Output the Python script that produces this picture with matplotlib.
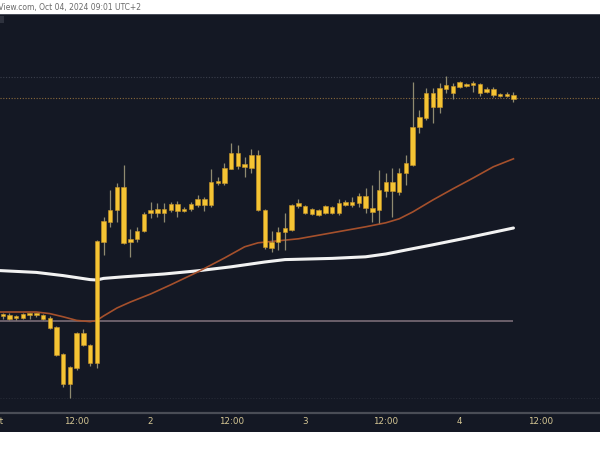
#!/usr/bin/env python

import numpy as np
import matplotlib as mpl
import matplotlib.pyplot as plt
from matplotlib.patches import Rectangle
from matplotlib.transforms import blended_transform_factory

mpl.rc('savefig', dpi=100)
mpl.rc('font', family='DejaVu Sans')

# hourly candles, index counted from Oct 1 00:00 (23 bars per trading day)
opens = [
    68.60, 68.59, 68.53, 68.57, 68.55, 68.65, 68.62, 68.62, 68.55, 68.32,
    67.65, 66.90, 67.30, 68.18, 67.88, 67.43, 70.46, 70.96, 71.25, 71.83,
    70.45, 70.52, 70.73, 71.18, 71.18, 71.28, 71.25, 71.40, 71.23, 71.27,
    71.37, 71.53, 71.38, 71.92, 71.92, 72.27, 72.67, 72.32, 72.29, 72.63,
    71.25, 70.29, 70.46, 70.71, 70.75, 71.35, 71.35, 71.28, 71.25, 71.17,
    71.33, 71.18, 71.45, 71.37, 71.42, 71.60, 71.29, 71.25, 71.73, 71.94,
    71.71, 72.17, 72.38, 73.33, 73.54, 74.17, 73.83, 74.27, 74.35, 74.33,
    74.40, 74.37, 74.40, 74.21, 74.27, 74.14, 74.11, 74.13,
]
highs = [
    68.68, 68.68, 68.68, 68.63, 68.68, 68.67, 68.68, 68.65, 68.60, 68.35,
    67.68, 67.35, 68.20, 68.28, 67.90, 70.50, 71.08, 71.75, 71.93, 72.38,
    70.78, 70.83, 71.20, 71.46, 71.43, 71.43, 71.46, 71.48, 71.33, 71.46,
    71.63, 71.58, 72.28, 72.07, 72.42, 72.93, 72.88, 72.58, 72.77, 72.75,
    71.28, 70.73, 70.83, 71.18, 71.40, 71.52, 71.38, 71.31, 71.28, 71.38,
    71.36, 71.52, 71.50, 71.58, 71.67, 71.80, 71.88, 72.25, 72.17, 72.29,
    72.29, 72.63, 74.46, 73.75, 74.29, 74.29, 74.43, 74.60, 74.42, 74.48,
    74.43, 74.48, 74.42, 74.33, 74.33, 74.18, 74.20, 74.21,
]
lows = [
    68.53, 68.53, 68.50, 68.50, 68.53, 68.53, 68.58, 68.50, 68.28, 67.60,
    66.83, 66.55, 67.25, 67.85, 67.35, 67.31, 70.13, 70.83, 70.96, 70.40,
    70.08, 70.46, 70.70, 71.05, 71.08, 70.96, 71.21, 71.08, 71.21, 71.23,
    71.33, 71.23, 71.33, 71.88, 71.88, 72.27, 72.28, 72.08, 72.17, 71.23,
    70.28, 70.21, 70.25, 70.25, 70.73, 71.29, 71.15, 71.13, 71.11, 71.15,
    71.16, 71.13, 71.34, 71.33, 71.33, 71.17, 70.95, 70.93, 71.58, 71.08,
    71.63, 71.88, 72.35, 73.18, 73.50, 73.42, 73.67, 74.17, 74.02, 74.29,
    74.32, 74.21, 74.10, 74.18, 74.08, 74.08, 74.07, 73.96,
]
closes = [
    68.60, 68.61, 68.63, 68.55, 68.65, 68.62, 68.64, 68.52, 68.30, 67.63,
    66.90, 67.33, 68.18, 67.88, 67.43, 70.48, 70.98, 71.25, 71.83, 70.43,
    70.53, 70.73, 71.15, 71.25, 71.28, 71.18, 71.40, 71.23, 71.28, 71.39,
    71.53, 71.38, 71.96, 71.98, 72.29, 72.68, 72.35, 72.40, 72.63, 71.25,
    70.33, 70.46, 70.71, 70.79, 71.38, 71.42, 71.17, 71.15, 71.13, 71.35,
    71.18, 71.43, 71.37, 71.46, 71.60, 71.29, 71.21, 71.75, 71.94, 71.73,
    72.17, 72.42, 73.33, 73.58, 74.17, 73.83, 74.29, 74.38, 74.18, 74.45,
    74.35, 74.40, 74.18, 74.27, 74.13, 74.11, 74.14, 74.03,
]

# moving averages at some bar indices
ma_slow_idx = [0, 6, 10, 14, 15, 16, 19, 25, 30, 35, 40, 43, 50, 55, 58, 61, 65, 70, 77]
ma_slow_val = [69.74, 69.69, 69.61, 69.51, 69.50, 69.54, 69.58, 69.65, 69.73, 69.83,
               69.95, 70.01, 70.04, 70.08, 70.15, 70.25, 70.38, 70.55, 70.80]

ma_fast_idx = [0, 6, 8, 10, 12, 14, 15, 16, 18, 20, 23, 26, 30, 34, 37, 39, 42, 45,
               50, 55, 58, 60, 62, 65, 68, 71, 74, 77]
ma_fast_val = [68.70, 68.70, 68.66, 68.58, 68.49, 68.46, 68.49, 68.60, 68.80, 68.95,
               69.15, 69.38, 69.70, 70.05, 70.33, 70.43, 70.48, 70.53, 70.68, 70.83,
               70.93, 71.03, 71.20, 71.50, 71.78, 72.05, 72.33, 72.53]

level_line = 68.475
last_price = 74.05
upper_line = 74.575
lower_line = 66.55

tick_idx = [0, 12, 23, 35, 46, 58, 69, 81]
tick_lbl = ['Oct', '12:00', '2', '12:00', '3', '12:00', '4', '12:00']

header = 'TradingView.com, Oct 04, 2024 09:01 UTC+2'


def main() -> None:

    bg = '#141824'
    candle = '#f5c433'
    wick = '#8f8a70'

    fig = plt.figure(figsize=(6, 4.5), dpi=100, facecolor='white')

    # dark panel behind chart and time axis
    fig.patches.append(Rectangle((0, 18/450), 1, 418/450, transform=fig.transFigure,
                                 facecolor=bg, edgecolor='none', zorder=-3))
    fig.patches.append(Rectangle((0, 435/450), 1, 1.2/450, transform=fig.transFigure,
                                 facecolor='#4a4e5a', edgecolor='none', zorder=-2))
    fig.patches.append(Rectangle((0, 427/450), 4/600, 7/450, transform=fig.transFigure,
                                 facecolor='#2e323e', edgecolor='none', zorder=-2))

    fig.text(-0.05, 1 - 7/450, header, fontsize=5.5, color='#6a6a6a',
             ha='left', va='center')

    ax = fig.add_axes([0, 37/450, 1, 399/450])
    ax.patch.set_visible(False)

    x = np.arange(len(opens))
    o = np.array(opens)
    c = np.array(closes)
    h = np.array(highs)
    l = np.array(lows)

    # reference lines
    ax.axhline(upper_line, color='#3b3f4c', lw=0.8, ls=(0, (1, 1.5)), zorder=1)
    ax.axhline(last_price, color='#8a6a3c', lw=0.8, ls=(0, (1, 1.5)), zorder=1)
    ax.axhline(lower_line, color='#262a36', lw=0.8, ls=(0, (1, 1.5)), zorder=1)
    ax.hlines(level_line, -2, 77, color='#7a6c76', lw=1.2, zorder=1)

    ax.plot(ma_slow_idx, ma_slow_val, color='#f2f2f2', lw=2.2, zorder=2,
            solid_capstyle='round')
    ax.plot(ma_fast_idx, ma_fast_val, color='#a5502c', lw=1.2, zorder=2)

    # candles
    ax.vlines(x, l, h, color=wick, lw=0.9, zorder=3)
    bottom = np.minimum(o, c)
    height = np.maximum(np.abs(c - o), 0.05)
    ax.bar(x, height, bottom=bottom, width=0.66, color=candle,
           edgecolor='#c8952a', linewidth=0.4, zorder=4)

    ax.set_xlim(0.595, 89.88)
    ax.set_ylim(66.175, 76.15)

    for s in ['top', 'left', 'right']:
        ax.spines[s].set_visible(False)
    ax.spines['bottom'].set_color('#4a4d56')
    ax.spines['bottom'].set_linewidth(1.6)
    ax.set_yticks([])
    ax.set_xticks([])

    trans = blended_transform_factory(ax.transData, fig.transFigure)
    for k, lbl in zip(tick_idx, tick_lbl):
        ax.text(k, 1 - 422/450, lbl, transform=trans, fontsize=6.3,
                color='#d6c795', ha='center', va='center', clip_on=False)

    fig.savefig('out.png', dpi=100, facecolor='white')

    return


if __name__ == '__main__':
    main()
